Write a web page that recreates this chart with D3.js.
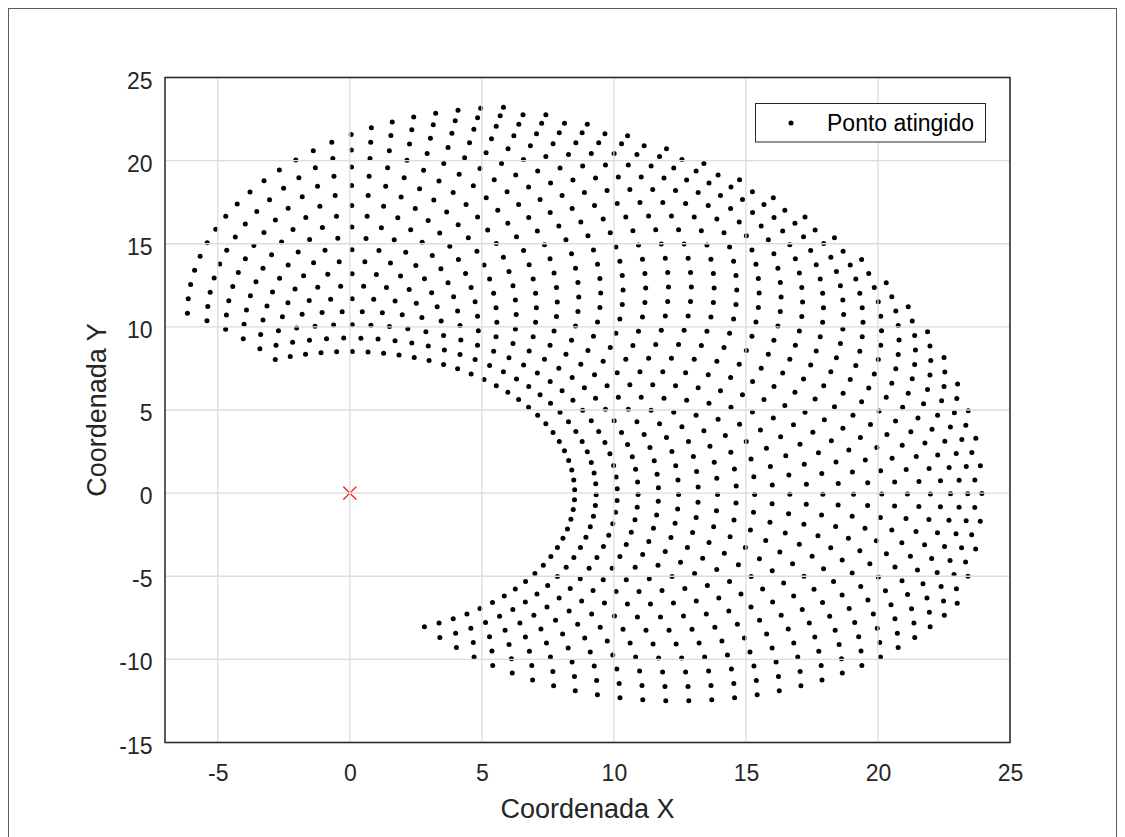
<!DOCTYPE html>
<html>
<head>
<meta charset="utf-8">
<script src="https://cdn.jsdelivr.net/npm/d3@7"></script>
<style>
    html, body { margin: 0; padding: 0; background: #fff; }
    svg { display: block; font-family: 'Liberation Sans', Arial, Helvetica, sans-serif; }
</style>
</head>
<body>
<div id="chart"></div>
<script>
// Arm geometry and joint samples (degrees)
const linkLengths = [12.4, 12.5];
const theta1Deg = [0, 4, 8, 12, 16, 20, 24, 28, 32, 36, 40, 44, 48, 52, 56, 60, 64, 68, 72, 76, 80, 84, 88, 92,
    96, 100, 104, 108, 112, 116, 120, 124, 128, 132, 136, 140, 144, 148, 152, 156, 160, 164, 168, 172, 176, 180];
const theta2Deg = [-140, -136, -132, -128, -124, -120, -116, -112, -108, -104, -100, -96, -92, -88,
    -84, -80, -76, -72, -68, -64, -60, -56, -52, -48, -44, -40, -36, -32];
const maxLink2AngleDeg = 60;   // absolute angle of link 2 never goes past this
const basePoint = [0, 0];

const xTicks = [-5, 0, 5, 10, 15, 20, 25];
const yTicks = [-15, -10, -5, 0, 5, 10, 15, 20, 25];
const xDomain = [-7, 25];
const yDomain = [-15, 25];
const legendLabel = 'Ponto atingido';

// Build the reached points from the joint samples
const rad = d => d * Math.PI / 180;
const points = [];
theta1Deg.forEach(t1 => {
    theta2Deg.forEach(t2 => {
        if (t1 + t2 > maxLink2AngleDeg) return;
        const a = rad(t1), b = rad(t1 + t2);
        points.push({
            x: linkLengths[0] * Math.cos(a) + linkLengths[1] * Math.cos(b),
            y: linkLengths[0] * Math.sin(a) + linkLengths[1] * Math.sin(b)
        });
    });
});

const W = 1125, H = 837;
const plot = { left: 165, right: 1010, top: 77.5, bottom: 742.5 };

const svg = d3.select('#chart').append('svg')
    .attr('width', W)
    .attr('height', H);

// Figure frame
svg.append('rect')
    .attr('x', 8.5).attr('y', 8.5)
    .attr('width', 1108).attr('height', H)
    .attr('fill', 'none')
    .attr('stroke', '#5c5c5c')
    .attr('stroke-width', 1);

const x = d3.scaleLinear().domain(xDomain).range([plot.left, plot.right]);
const y = d3.scaleLinear().domain(yDomain).range([plot.bottom, plot.top]);

// Points
svg.append('g').attr('class', 'points')
    .selectAll('circle')
    .data(points)
    .enter().append('circle')
    .attr('cx', d => x(d.x))
    .attr('cy', d => y(d.y))
    .attr('r', 2.5)
    .attr('fill', '#000');

// Base marker
const bx = x(basePoint[0]), by = y(basePoint[1]);
svg.append('circle')
    .attr('cx', bx).attr('cy', by).attr('r', 1.3)
    .attr('fill', '#300');
const xm = svg.append('g').attr('stroke', '#f00').attr('stroke-width', 1.3);
xm.append('line').attr('x1', bx - 6.5).attr('y1', by - 6.5).attr('x2', bx + 6.5).attr('y2', by + 6.5);
xm.append('line').attr('x1', bx - 6.5).attr('y1', by + 6.5).attr('x2', bx + 6.5).attr('y2', by - 6.5);

// Grid (on top of the data, like the original)
const grid = svg.append('g').attr('class', 'grid')
    .attr('stroke', '#dcdcdc')
    .attr('stroke-width', 1.3);
grid.selectAll('.gx').data(xTicks).enter().append('line')
    .attr('x1', d => x(d)).attr('x2', d => x(d))
    .attr('y1', plot.top).attr('y2', plot.bottom);
grid.selectAll('.gy').data(yTicks).enter().append('line')
    .attr('y1', d => y(d)).attr('y2', d => y(d))
    .attr('x1', plot.left).attr('x2', plot.right);

// Axes box
svg.append('rect')
    .attr('x', plot.left).attr('y', plot.top)
    .attr('width', plot.right - plot.left)
    .attr('height', plot.bottom - plot.top)
    .attr('fill', 'none')
    .attr('stroke', '#262626')
    .attr('stroke-width', 1.5);

// Tick labels (plain hyphen minus, as in the original)
const fmt = d => String(d);

const xAxis = d3.axisBottom(x).tickValues(xTicks).tickFormat(fmt).tickSize(0).tickPadding(0);
svg.append('g')
    .attr('transform', `translate(0,${plot.bottom})`)
    .call(xAxis)
    .call(g => g.select('.domain').remove())
    .selectAll('text')
    .attr('y', 38.5).attr('dy', null)
    .attr('font-size', 23).attr('font-family', null)
    .attr('fill', '#262626');

const yAxis = d3.axisLeft(y).tickValues(yTicks).tickFormat(fmt).tickSize(0).tickPadding(0);
svg.append('g')
    .attr('transform', `translate(${plot.left},0)`)
    .call(yAxis)
    .call(g => g.select('.domain').remove())
    .selectAll('text')
    .attr('x', -12.5).attr('dy', null).attr('y', 10.5)
    .attr('font-size', 23).attr('font-family', null)
    .attr('fill', '#262626');

// Axis titles
svg.append('text')
    .attr('x', (plot.left + plot.right) / 2)
    .attr('y', 818)
    .attr('text-anchor', 'middle')
    .attr('font-size', 27)
    .attr('fill', '#262626')
    .text('Coordenada X');

svg.append('text')
    .attr('transform', `translate(106,${(plot.top + plot.bottom) / 2}) rotate(-90)`)
    .attr('text-anchor', 'middle')
    .attr('font-size', 27)
    .attr('fill', '#262626')
    .text('Coordenada Y');

// Legend
const lg = svg.append('g').attr('class', 'legend');
lg.append('rect')
    .attr('x', 755.5).attr('y', 103.5)
    .attr('width', 230).attr('height', 38.5)
    .attr('fill', '#fff')
    .attr('stroke', '#262626')
    .attr('stroke-width', 1);
lg.append('circle')
    .attr('cx', 791).attr('cy', 123).attr('r', 2.5)
    .attr('fill', '#000');
lg.append('text')
    .attr('x', 827).attr('y', 131)
    .attr('font-size', 23)
    .attr('fill', '#000')
    .text(legendLabel);
</script>
</body>
</html>
